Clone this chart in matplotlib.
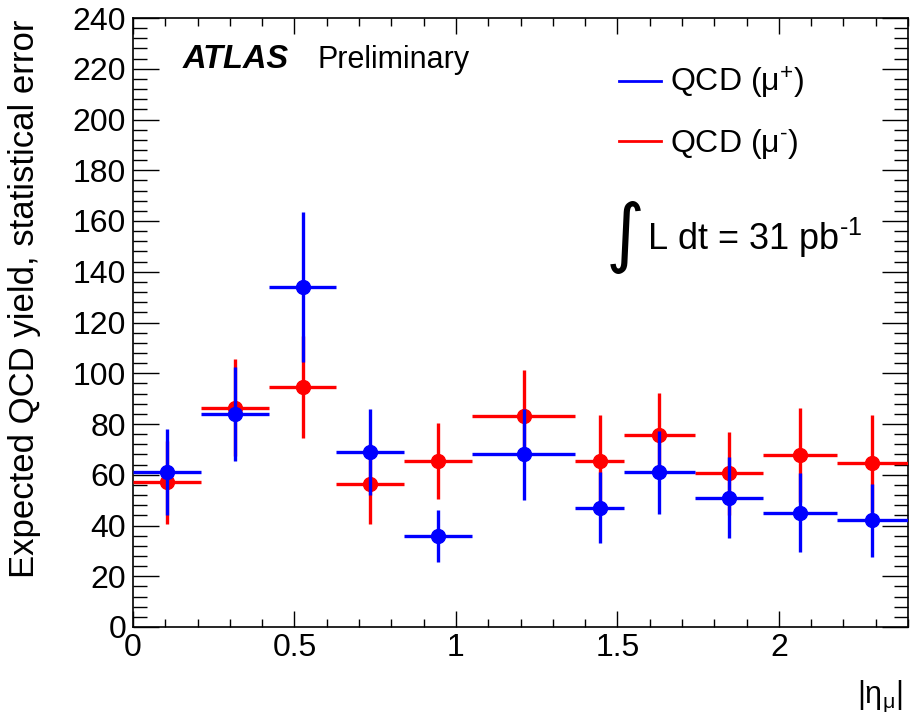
import numpy as np
import matplotlib
matplotlib.use("Agg")
import matplotlib.pyplot as plt
from matplotlib.ticker import MultipleLocator, FuncFormatter
from matplotlib.lines import Line2D

# |eta| bins and QCD yields
eta_edges = [0, 0.21, 0.42, 0.63, 0.84, 1.05, 1.37, 1.52, 1.74, 1.95, 2.18, 2.4]
qcd_plus = [61, 84, 134, 69, 36, 68, 47, 61, 51, 45, 42]
qcd_plus_err = [17, 18.5, 29.5, 17, 10.3, 18, 14, 16.3, 16, 15.5, 14.5]
qcd_minus = [57, 86.5, 94.5, 56.5, 65.5, 83.3, 65.5, 75.5, 60.5, 67.8, 64.5]
qcd_minus_err = [16.3, 19.3, 20, 15.8, 15, 18, 18, 16.8, 16.2, 18.7, 19]

plt.rcParams["font.family"] = ["Liberation Sans", "DejaVu Sans"]
plt.rcParams["mathtext.fontset"] = "custom"
plt.rcParams["mathtext.rm"] = "Liberation Sans"
plt.rcParams["mathtext.it"] = "Liberation Sans:italic"
plt.rcParams["mathtext.bf"] = "Liberation Sans:bold"

W, H = 911, 722


def fx(px):
    return px / W


def fy(py):
    return 1 - py / H


edges = np.array(eta_edges)
centers = (edges[:-1] + edges[1:]) / 2
half = (edges[1:] - edges[:-1]) / 2

fig = plt.figure(figsize=(W / 100, H / 100), dpi=100)
ax = fig.add_axes([fx(133), fy(627), fx(908) - fx(133), fy(18) - fy(627)])

ax.errorbar(centers, qcd_minus, xerr=half, yerr=qcd_minus_err, fmt="o",
            color="red", ms=10, elinewidth=2.4, capsize=0, zorder=3)
ax.errorbar(centers, qcd_plus, xerr=half, yerr=qcd_plus_err, fmt="o",
            color="blue", ms=10, elinewidth=2.4, capsize=0, zorder=4)

ax.set_xlim(0, 2.4)
ax.set_ylim(0, 240)
ax.xaxis.set_major_locator(MultipleLocator(0.5))
ax.xaxis.set_minor_locator(MultipleLocator(0.1))
ax.yaxis.set_major_locator(MultipleLocator(20))
ax.yaxis.set_minor_locator(MultipleLocator(4))
ax.xaxis.set_major_formatter(FuncFormatter(lambda v, p: "%g" % v))
ax.tick_params(which="both", direction="in", top=True, right=True,
               labelsize=23, width=1)
ax.tick_params(axis="y", which="major", length=18.5, pad=5)
ax.tick_params(axis="y", which="minor", length=10)
ax.tick_params(axis="x", which="major", length=11.5, pad=4)
ax.tick_params(axis="x", which="minor", length=6)
for s in ax.spines.values():
    s.set_linewidth(1.2)

fig.text(fx(25), fy(20), "Expected QCD yield, statistical error",
         rotation=90, ha="center", va="top", fontsize=25)
fig.text(fx(903), fy(703), r"$|\mathrm{\eta}_{\mathrm{\mu}}|$",
         ha="right", va="baseline", fontsize=22)

fig.text(fx(183), fy(68), "ATLAS", fontsize=23.5, fontweight="bold",
         fontstyle="italic", va="baseline")
fig.text(fx(318), fy(68), "Preliminary", fontsize=22, va="baseline")

handles = [Line2D([], [], color="blue", lw=2),
           Line2D([], [], color="red", lw=2)]
ax.legend(handles, ["QCD (μ$^{+}$)", "QCD (μ$^{‐}$)"], loc="upper left",
          bbox_to_anchor=(fx(619), fy(65)), bbox_transform=fig.transFigure,
          frameon=False, fontsize=23, handlelength=1.3, handletextpad=0.3,
          labelspacing=0.8, borderpad=0, borderaxespad=0)

fig.text(fx(606), fy(258), "∫", family="DejaVu Sans", fontsize=54,
         va="baseline")
fig.text(fx(647), fy(250), "L dt = 31 pb$^{‐1}$", fontsize=26,
         va="baseline")

fig.savefig("out.png", dpi=100)
